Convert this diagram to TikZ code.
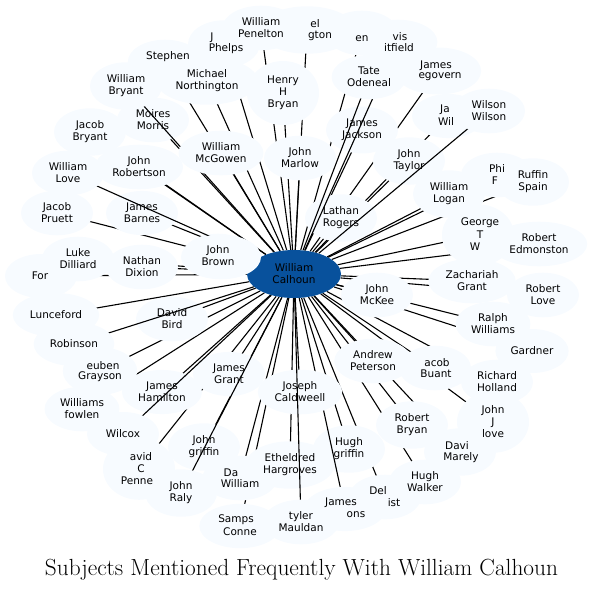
\documentclass[tikz,border=0pt]{standalone}
\usepackage{fontspec}
\usetikzlibrary{shapes.geometric}
\newfontfamily\dv{DejaVu Sans}
\definecolor{pale}{HTML}{F7FBFF}
\definecolor{hubblue}{HTML}{08519C}
\pgfdeclarelayer{eone}
\pgfdeclarelayer{bone}
\pgfdeclarelayer{ov}
\pgfsetlayers{eone,bone,ov,main}
\tikzset{
  blob/.style={ellipse, fill=pale, draw=none, text opacity=0, align=center,
    font=\dv\fontsize{10.5}{12}\selectfont, inner xsep=4.5pt, inner ysep=5.7pt,
    minimum height=44pt, minimum width=72pt},
  lab/.style={align=center, font=\dv\fontsize{10.5}{12}\selectfont, inner sep=0pt, text=black},
  link/.style={draw=black, line width=1.1pt},
  hub/.style={ellipse, fill=hubblue, draw=none, align=center,
    font=\dv\fontsize{10.5}{12}\selectfont, minimum width=94pt, minimum height=48pt, inner sep=2pt}
}
\begin{document}
\begin{tikzpicture}[x=1pt,y=-1pt]
\useasboundingbox (0,0) rectangle (604,590);
\node[hub] (c) at (294,274) {William\\Calhoun};

\begin{pgfonlayer}{bone}
\node[blob] (pen) at (261,28) {William\\Penelton};
\node[blob] (dan) at (307,30) {Daniel\\Pennington};
\node[blob] (en) at (362,33) {Allen\\Allen};
\node[blob] (ste) at (165,62) {Stephen\\Smith};
\node[blob] (phe) at (224,44) {John\\Phelps};
\node[blob] (mno) at (207,81) {Michael\\Northington};
\node[blob] (hhb) at (283,93) {Henry\\H\\Bryan};
\node[blob] (meg) at (438,71) {James\\Megovern};
\node[blob] (mor) at (153,120) {Moires\\Morris};
\node[blob] (jaw) at (448,116) {James\\Wilkins};
\node[blob] (jbr) at (90,132) {Jacob\\Bryant};
\node[blob] (jja) at (362,130) {James\\Jackson};
\node[blob] (mar) at (300,158) {John\\Marlow};
\node[blob] (jta) at (409,161) {John\\Taylor};
\node[blob] (phi) at (497,175) {Philip\\Fox};
\node[blob] (ruf) at (533,182) {Ruffin\\Spain};
\node[blob] (log) at (449,194) {William\\Logan};
\node[blob] (pru) at (57,213) {Jacob\\Pruett};
\node[blob] (bar) at (142,213) {James\\Barnes};
\node[blob] (lat) at (341,218) {Lathan\\Rogers};
\node[blob] (geo) at (478,235) {George\\T\\Ward};
\node[blob] (edm) at (539,244) {Robert\\Edmonston};
\node[blob] (luk) at (78,259) {Luke\\Dilliard};
\node[blob] (jbn) at (218,256) {John\\Brown};
\node[blob] (frd) at (41,276) {Ford};
\node[blob] (nat) at (142,267) {Nathan\\Dixion};
\node[blob] (zac) at (472,281) {Zachariah\\Grant};
\node[blob] (mck) at (377,295) {John\\McKee};
\node[blob] (rlo) at (543,295) {Robert\\Love};
\node[blob] (lun) at (56,315) {Lunceford};
\node[blob] (dbi) at (172,319) {David\\Bird};
\node[blob] (ral) at (493,324) {Ralph\\Williams};
\node[blob] (gar) at (532,351) {Gardner};
\node[blob] (anp) at (373,361) {Andrew\\Peterson};
\node[blob] (bua) at (435,368) {Jacob\\Buant};
\node[blob] (gra) at (100,371) {Reuben\\Grayson};
\node[blob] (jgr) at (229,374) {James\\Grant};
\node[blob] (ham) at (162,392) {James\\Hamilton};
\node[blob] (hol) at (497,382) {Richard\\Holland};
\node[blob] (fow) at (82,409) {Williams\\fowlen};
\node[blob] (bry) at (412,425) {Robert\\Bryan};
\node[blob] (jjl) at (493,422) {John\\J\\love};
\node[blob] (jgf) at (204,447) {John\\griffin};
\node[blob] (hgf) at (349,449) {Hugh\\griffin};
\node[blob] (mare) at (460,452) {David\\Marely};
\node[blob] (pnn) at (139,469) {David\\C\\Pennell};
\node[blob] (eth) at (290,465) {Etheldred\\Hargroves};
\node[blob] (dwi) at (240,478) {David\\Williams};
\node[blob] (hwa) at (425,482) {Hugh\\Walker};
\node[blob] (del) at (385,497) {Dennis\\Delist};
\node[blob] (sam) at (240,526) {Sampson\\Conner};
\end{pgfonlayer}

\begin{pgfonlayer}{eone}
\foreach \n in {pen,dan,en,ste,phe,mno,hhb,meg,mor,jaw,jbr,jja,mar,jta,phi,ruf,log,pru,bar,lat,geo,edm,luk,jbn,frd,nat,zac,mck,rlo,lun,dbi,ral,gar,anp,bua,gra,jgr,ham,hol,fow,bry,jjl,jgf,hgf,mare,pnn,eth,dwi,hwa,del,sam}
  \draw[link] (c) -- (\n.center);
\end{pgfonlayer}

\begin{pgfonlayer}{ov}
\coordinate (whit-p) at (398,42);
\draw[link] (c) -- (whit-p);
\node[blob] (whit) at (whit-p) {Lewis\\Whitfield};
\coordinate (tat-p) at (369,77);
\draw[link] (c) -- (tat-p);
\node[blob] (tat) at (tat-p) {Tate\\Odeneal};
\coordinate (wbr-p) at (126,86);
\draw[link] (c) -- (wbr-p);
\node[blob] (wbr) at (wbr-p) {William\\Bryant};
\coordinate (mcg-p) at (221,153);
\draw[link] (c) -- (mcg-p);
\node[blob] (mcg) at (mcg-p) {William\\McGowen};
\coordinate (rob-p) at (139,167);
\draw[link] (c) -- (rob-p);
\node[blob] (rob) at (rob-p) {John\\Robertson};
\coordinate (wlo-p) at (68,173);
\draw[link] (c) -- (wlo-p);
\node[blob] (wlo) at (wlo-p) {William\\Love};
\coordinate (wil-p) at (489,111);
\draw[link] (c) -- (wil-p);
\node[blob] (wil) at (wil-p) {Wilson\\Wilson};
\coordinate (rbn-p) at (74,344);
\draw[link] (c) -- (rbn-p);
\node[blob] (rbn) at (rbn-p) {Robinson};
\coordinate (wcx-p) at (123,434);
\draw[link] (c) -- (wcx-p);
\node[blob] (wcx) at (wcx-p) {Wilcox};
\coordinate (raly-p) at (181,493);
\draw[link] (c) -- (raly-p);
\node[blob] (raly) at (raly-p) {John\\Raly};
\coordinate (jmo-p) at (345,509);
\draw[link] (c) -- (jmo-p);
\node[blob] (jmo) at (jmo-p) {James\\Simmons};
\coordinate (cal-p) at (300,392);
\draw[link] (c) -- (cal-p);
\node[blob] (cal) at (cal-p) {Joseph\\Caldweell};
\coordinate (tyl-p) at (301,522);
\draw[link] (c) -- (tyl-p);
\node[blob] (tyl) at (tyl-p) {tyler\\Mauldan};
\end{pgfonlayer}

% John Brown's ellipse overlaps the hub
\node[blob, minimum width=80pt] (jbnover) at (221,257) {John\\Brown};

% texts
\node[lab] at (pen) {William\\Penelton};
\node[lab] at (315,24) {el};
\node[lab] at (320,36) {gton};
\node[lab] at (362,39) {en};
\node[lab] at (400,37) {vis};
\node[lab] at (399,48) {itfield};
\node[lab] at (168,57) {Stephen};
\node[lab] at (212,38) {J};
\node[lab] at (226,49) {Phelps};
\node[lab] at (mno) {Michael\\Northington};
\node[lab] at (wbr) {William\\Bryant};
\node[lab] at (hhb) {Henry\\H\\Bryan};
\node[lab] at (tat) {Tate\\Odeneal};
\node[lab] at (436,66) {James};
\node[lab] at (440,77) {egovern};
\node[lab] at (mor) {Moires\\Morris};
\node[lab] at (445,110) {Ja};
\node[lab] at (446,122) {Wil};
\node[lab] at (wil) {Wilson\\Wilson};
\node[lab] at (jbr) {Jacob\\Bryant};
\node[lab] at (jja) {James\\Jackson};
\node[lab] at (mcg) {William\\McGowen};
\node[lab] at (mar) {John\\Marlow};
\node[lab] at (jta) {John\\Taylor};
\node[lab] at (497,169) {Phi};
\node[lab] at (495,181) {F};
\node[lab] at (ruf) {Ruffin\\Spain};
\node[lab] at (wlo) {William\\Love};
\node[lab] at (rob) {John\\Robertson};
\node[lab] at (log) {William\\Logan};
\node[lab] at (pru) {Jacob\\Pruett};
\node[lab] at (bar) {James\\Barnes};
\node[lab] at (lat) {Lathan\\Rogers};
\node[lab] at (480,223) {George};
\node[lab] at (480,235) {T};
\node[lab] at (475,247) {W};
\node[lab] at (edm) {Robert\\Edmonston};
\node[lab] at (luk) {Luke\\Dilliard};
\node[lab] at (jbn) {John\\Brown};
\node[lab] at (40,276) {For};
\node[lab] at (nat) {Nathan\\Dixion};
\node[lab] at (zac) {Zachariah\\Grant};
\node[lab] at (mck) {John\\McKee};
\node[lab] at (rlo) {Robert\\Love};
\node[lab] at (lun) {Lunceford};
\node[lab] at (dbi) {David\\Bird};
\node[lab] at (ral) {Ralph\\Williams};
\node[lab] at (rbn) {Robinson};
\node[lab] at (gar) {Gardner};
\node[lab] at (anp) {Andrew\\Peterson};
\node[lab] at (437,363) {acob};
\node[lab] at (436,374) {Buant};
\node[lab] at (103,366) {euben};
\node[lab] at (100,377) {Grayson};
\node[lab] at (jgr) {James\\Grant};
\node[lab] at (ham) {James\\Hamilton};
\node[lab] at (cal) {Joseph\\Caldweell};
\node[lab] at (hol) {Richard\\Holland};
\node[lab] at (fow) {Williams\\fowlen};
\node[lab] at (bry) {Robert\\Bryan};
\node[lab] at (jjl) {John\\J\\love};
\node[lab] at (wcx) {Wilcox};
\node[lab] at (jgf) {John\\griffin};
\node[lab] at (hgf) {Hugh\\griffin};
\node[lab] at (457,446) {Davi};
\node[lab] at (461,458) {Marely};
\node[lab] at (141,457) {avid};
\node[lab] at (141,469) {C};
\node[lab] at (137,481) {Penne};
\node[lab] at (eth) {Etheldred\\Hargroves};
\node[lab] at (231,473) {Da};
\node[lab] at (240,484) {William};
\node[lab] at (hwa) {Hugh\\Walker};
\node[lab] at (raly) {John\\Raly};
\node[lab] at (378,491) {Del};
\node[lab] at (394,503) {ist};
\node[lab] at (341,503) {James};
\node[lab] at (356,515) {ons};
\node[lab] at (236,520) {Samps};
\node[lab] at (240,532) {Conne};
\node[lab] at (tyl) {tyler\\Mauldan};

\node[anchor=base, inner sep=0pt, font=\fontsize{20}{24}\selectfont] (title) at (301.5,575)
  {\resizebox{513pt}{!}{Subjects Mentioned Frequently With William Calhoun}};
\end{tikzpicture}
\end{document}
